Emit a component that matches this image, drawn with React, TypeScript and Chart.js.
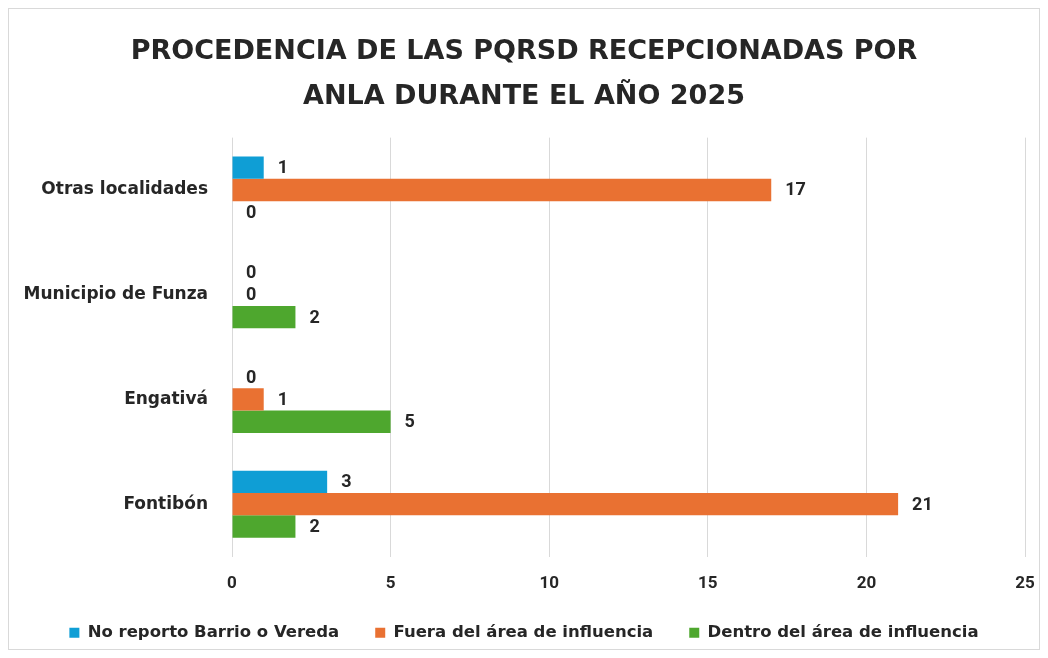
import React, { useEffect, useRef } from "react";
import { Chart, registerables } from "chart.js";

Chart.register(...registerables);

const categories = ["Otras localidades", "Municipio de Funza", "Engativá", "Fontibón"];
const seriesNames = ["No reporto Barrio o Vereda", "Fuera del área de influencia", "Dentro del área de influencia"];
const noReporto = [1, 0, 0, 3];
const fuera = [17, 0, 1, 21];
const dentro = [0, 2, 5, 2];
const seriesColors = ["#0F9ED5", "#E97132", "#4EA72E"];
const titleLines = ["PROCEDENCIA DE LAS PQRSD RECEPCIONADAS POR", "ANLA DURANTE EL AÑO 2025"];
const xMin = 0;
const xMax = 25;
const xStep = 5;

const valueLabels = {
  id: "valueLabels",
  afterDatasetsDraw(chart: any) {
    const ctx = chart.ctx;
    ctx.save();
    ctx.font = "bold 18px Roboto";
    ctx.fillStyle = "#262626";
    ctx.textAlign = "left";
    ctx.textBaseline = "middle";
    chart.data.datasets.forEach((ds: any, i: number) => {
      const meta = chart.getDatasetMeta(i);
      meta.data.forEach((el: any, j: number) => {
        ctx.fillText(String(ds.data[j]), el.x + 14, el.y + 1);
      });
    });
    ctx.restore();
  },
};

export default function App() {
  const ref = useRef<HTMLCanvasElement | null>(null);
  useEffect(() => {
    if (!ref.current) return;
    const chart = new Chart(ref.current, {
      type: "bar",
      data: {
        labels: categories,
        datasets: [
          { label: seriesNames[0], data: noReporto, backgroundColor: seriesColors[0] },
          { label: seriesNames[1], data: fuera, backgroundColor: seriesColors[1] },
          { label: seriesNames[2], data: dentro, backgroundColor: seriesColors[2] },
        ],
      },
      options: {
        indexAxis: "y",
        animation: false,
        responsive: false,
        maintainAspectRatio: false,
        datasets: { bar: { categoryPercentage: 0.64, barPercentage: 1.0 } },
        layout: { padding: { left: 0, right: 0, top: 0, bottom: -2 } },
        scales: {
          x: {
            min: xMin,
            max: xMax,
            ticks: { stepSize: xStep, padding: 17, color: "#262626", font: { family: "Roboto", size: 17, weight: "bold" } },
            grid: { color: "#d9d9d9", drawTicks: false },
            border: { display: false },
            afterFit: (scale: any) => {
              scale.height = 32;
              scale.paddingLeft = 0;
              scale.paddingRight = 14;
            },
          },
          y: {
            ticks: { padding: 24, color: "#262626", font: { family: "DejaVu Sans", size: 17, weight: "bold" } },
            grid: { display: false, drawTicks: false },
            border: { display: false },
            afterFit: (scale: any) => {
              scale.width = 223;
            },
          },
        },
        plugins: {
          title: {
            display: true,
            text: titleLines,
            color: "#262626",
            font: { family: "DejaVu Sans", size: 27, weight: "bold", lineHeight: 1.66 },
            padding: { top: 21, bottom: 18 },
          },
          legend: {
            position: "bottom",
            labels: {
              boxWidth: 10,
              boxHeight: 10,
              padding: 36,
              color: "#262626",
              font: { family: "DejaVu Sans", size: 16.5, weight: "bold" },
            },
          },
          tooltip: { enabled: false },
        },
      },
      plugins: [valueLabels],
    });
    return () => chart.destroy();
  }, []);
  return (
    <div style={{ width: 1032, height: 642, border: "1px solid #d9d9d9", boxSizing: "border-box", background: "#fff" }}>
      <canvas ref={ref} width={1030} height={640} />
    </div>
  );
}
